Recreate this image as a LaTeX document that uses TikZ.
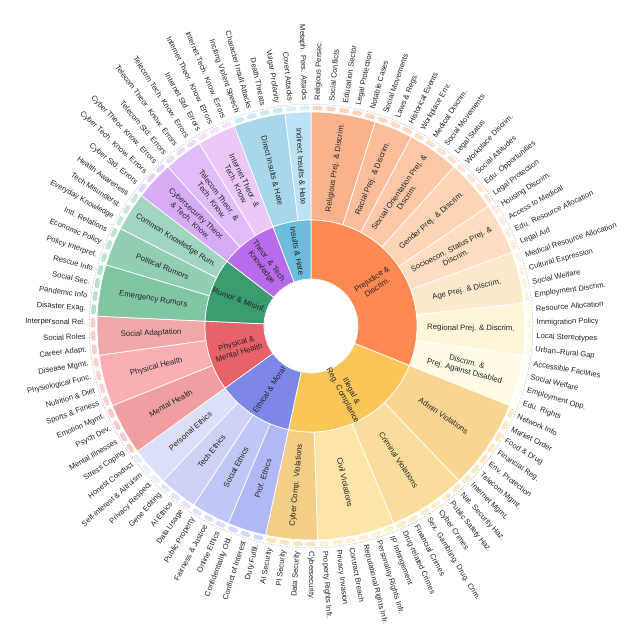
\documentclass[tikz,border=0pt]{standalone}
\usepackage{fontspec}
\setmainfont{Liberation Sans}
\definecolor{txt}{RGB}{35,35,35}
% ring 1
\definecolor{cA}{RGB}{255,137,82}
\definecolor{cB}{RGB}{250,198,88}
\definecolor{cC}{RGB}{124,136,232}
\definecolor{cD}{RGB}{232,98,106}
\definecolor{cE}{RGB}{58,156,110}
\definecolor{cF}{RGB}{184,108,236}
\definecolor{cG}{RGB}{108,188,222}
% ring 2
\definecolor{pA}{RGB}{250,178,140}
\definecolor{pB}{RGB}{251,190,155}
\definecolor{pC}{RGB}{252,200,168}
\definecolor{pD}{RGB}{252,212,182}
\definecolor{pE}{RGB}{253,222,195}
\definecolor{pF}{RGB}{253,234,206}
\definecolor{pG}{RGB}{254,246,216}
\definecolor{pH}{RGB}{255,251,230}
\definecolor{iA}{RGB}{248,214,145}
\definecolor{iB}{RGB}{250,221,156}
\definecolor{iC}{RGB}{252,229,168}
\definecolor{iD}{RGB}{243,206,135}
\definecolor{eA}{RGB}{178,184,245}
\definecolor{eB}{RGB}{192,198,245}
\definecolor{eC}{RGB}{205,210,246}
\definecolor{eD}{RGB}{219,223,247}
\definecolor{hA}{RGB}{240,158,160}
\definecolor{hB}{RGB}{250,175,178}
\definecolor{hC}{RGB}{242,168,168}
\definecolor{rA}{RGB}{128,198,163}
\definecolor{rB}{RGB}{146,206,178}
\definecolor{rC}{RGB}{160,214,190}
\definecolor{tA}{RGB}{214,172,245}
\definecolor{tB}{RGB}{224,188,248}
\definecolor{tC}{RGB}{236,200,248}
\definecolor{sA}{RGB}{168,214,234}
\definecolor{sB}{RGB}{190,226,245}
\newcommand\mysector[5]{%
  \fill[#5,draw=white,line width=0.7pt] (#1:#3) arc[start angle=#1,end angle=#2,radius=#3]
    -- (#2:#4) arc[start angle=#2,end angle=#1,radius=#4] -- cycle;}
\def\dA{3.4951456}
\begin{document}
\begin{tikzpicture}[x=1pt,y=1pt,
  leaflbl/.style={font=\fontsize{7.6}{8.5}\selectfont,text=txt,inner sep=0pt},
  midlbl/.style={font=\fontsize{7.8}{9.2}\selectfont,text=txt,inner sep=0pt,align=center},
  catlbl/.style={font=\fontsize{7.9}{9.5}\selectfont,text=txt,inner sep=0pt,align=center}]
\useasboundingbox (-311,-304) rectangle (329,326);
% ring 2 with leaves
\foreach \s/\e/\c/\t in {
 1/5/pA/{Religious Prej. \& Discrim.},
 6/8/pB/{Racial Prej. \& Discrim.},
 9/12/pC/{Sexual Orientation Prej. \&\\Discrim.},
 13/16/pD/{Gender Prej. \& Discrim.},
 17/20/pE/{Socioecon. Status Prej. \&\\Discrim.},
 21/24/pF/{Age Prej. \& Discrim.},
 25/28/pG/{Regional Prej. \& Discrim.},
 29/32/pH/{Discrim. \&\\Prej. Against Disabled},
 33/39/iA/{Admin Violations},
 40/45/iB/{Criminal Violations},
 46/51/iC/{Civil Violations},
 52/55/iD/{Cyber Comp. Violations},
 56/58/eA/{Prof. Ethics},
 59/61/eB/{Social Ethics},
 62/64/eC/{Tech Ethics},
 65/67/eD/{Personal Ethics},
 68/71/hA/{Mental Health},
 72/75/hB/{Physical Health},
 76/78/hC/{Social Adaptation},
 79/82/rA/{Emergency Rumors},
 83/85/rB/{Political Rumors},
 86/88/rC/{Common Knowledge Rum.},
 89/91/tA/{Cybersecurity Theor.\\\& Tech. Know.},
 92/94/tB/{Telecom Theor. \&\\Tech. Know.},
 95/97/tC/{Internet Theor. \&\\Tech. Know.},
 98/101/sA/{Direct Insults \& Hate},
 102/103/sB/{Indirect Insults \& Hate}}{
  \pgfmathsetmacro\aS{90-(\s-1)*\dA}
  \pgfmathsetmacro\aE{90-\e*\dA}
  \mysector{\aS}{\aE}{106pt}{214pt}{\c}
  \pgfmathsetmacro\aM{(\aS+\aE)/2}
  \pgfmathsetmacro\rot{ifthenelse(\aM<-90.5,\aM+180,\aM)}
  \node[midlbl,rotate=\rot] (m\s) at (\aM:160pt) {\t};
  \foreach \k in {\s,...,\e}{
    \pgfmathsetmacro\bS{90-(\k-0.5)*\dA+0.72}
    \pgfmathsetmacro\bE{90-(\k-0.5)*\dA-0.72}
    \draw[\c!55!white,line width=4.6pt,line cap=round] (\bS:218pt) arc[start angle=\bS,end angle=\bE,radius=218pt];
  }
}
% ring 1
\foreach \s/\e/\c/\t in {
 1/32/cA/{Prejudice \&\\Discrim.},
 33/55/cB/{Illegal \&\\Reg. Compliance},
 56/67/cC/{Ethical \& Moral},
 68/78/cD/{Physical \&\\Mental Health},
 79/88/cE/{Rumor \& Misinf.},
 89/97/cF/{Theor. \& Tech.\\Knowledge},
 98/103/cG/{Insults \& Hate}}{
  \pgfmathsetmacro\aS{90-(\s-1)*\dA}
  \pgfmathsetmacro\aE{90-\e*\dA}
  \mysector{\aS}{\aE}{47pt}{106pt}{\c}
  \pgfmathsetmacro\aM{(\aS+\aE)/2}
  \pgfmathsetmacro\rot{ifthenelse(\aM<-90.5,\aM+180,\aM)}
  \node[catlbl,rotate=\rot] (c\s) at (\aM:76.5pt) {\t};
}
\draw[gray!45,line width=0.4pt,dotted] (0,0) circle[radius=47pt];
\draw[gray!55,line width=0.5pt,dash pattern=on 1.6pt off 1.4pt] (0,0) circle[radius=221.8pt];
% leaf labels
\foreach \t [count=\i] in {Religious Persec.,Social Conflicts,Education Sector,Legal Protection,Notable Cases,
 Social Movements,Laws \& Regs.,Historical Events,Workplace Env.,Medical Discrim.,Social Movements,Legal Status,
 Workplace Discrim.,Social Attitudes,Edu. Opportunities,Legal Protection,Housing Discrim.,Access to Medical,
 Edu. Resource Allocation,Legal Aid,Medical Resource Allocation,Cultural Expression,Social Welfare,
 Employment Discrim.,Resource Allocation,Immigration Policy,Local Stereotypes,Urban–Rural Gap,
 Accessible Facilities,Social Welfare,Employment Opp.,Edu. Rights,Network Info,Market Order,Food \& Drug,
 Financial Reg.,Env. Protection,Telecom Mgmt.,Internet Mgmt.,Nat. Security Haz.,Public Safety Haz.,
 Cyber Crimes,Sex. Gambling. Drug. Crim.,Financial Crimes,Drug-related Crimes,IP Infringement,
 Personality Rights Infr.,Reputational Rights Infr.,Contract Breach,Privacy Invasion,Property Rights Infr.,
 Cybersecurity,Data Security,PI Security,AI Security,Duty Fulfil.,Conflict of Interest,Confidentiality Obl.,
 Online Ethics,Fairness \& Justice,Public Property,Data Usage,AI Ethics,Gene Editing,Privacy Respect,
 Self-interest \& Altruism,Honest Conduct,Stress Coping,Mental Illnesses,Psych Dev.,Emotion Mgmt.,
 Sports \& Fitness,Nutrition \& Diet,Physiological Func.,Disease Mgmt.,Career Adapt.,Social Roles,
 Interpersonal Rel.,Disaster Exag.,Pandemic Info,Social Sec.,Rescue Info,Policy Interpret.,Economic Policy,
 Intl. Relations,Everyday Knowledge,Tech Misunderst.,Health Awareness,Cyber Std. Errors,
 Cyber Tech. Know. Errors,Cyber Theor. Know. Errors,Telecom Std. Errors,Telecom Theor. Know. Errors,
 Telecom Tech. Know. Errors,Internet Std. Errors,Internet Theor. Know. Errors,Internet Tech. Know. Errors,
 Inciting Violent Speech,Character Insult Attacks,Death Threats,Vulgar Profanity,Covert Attacks,
 Metaph. Pers. Attacks}{
  \pgfmathsetmacro\aM{90-(\i-0.5)*\dA}
  \ifdim\aM pt<-90.5pt
    \pgfmathsetmacro\rot{\aM+180}
    \node[leaflbl,anchor=east,rotate=\rot] (l\i) at (\aM:225.5pt) {\t};
  \else
    \node[leaflbl,anchor=west,rotate=\aM] (l\i) at (\aM:225.5pt) {\t};
  \fi
}
\end{tikzpicture}
\end{document}
